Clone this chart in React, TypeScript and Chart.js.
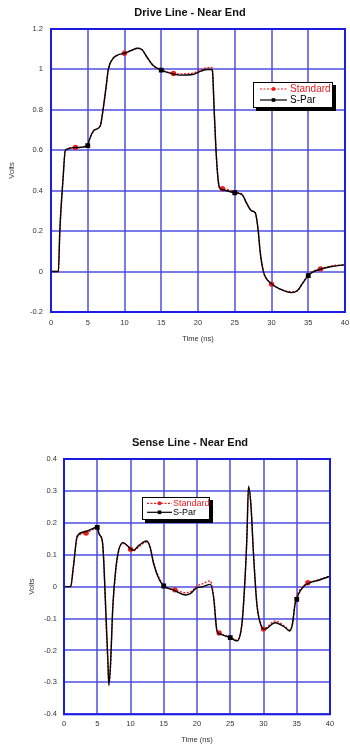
import React, { useEffect, useRef } from "react";
import { Chart, registerables } from "chart.js";

Chart.register(...registerables);

const FONT = "'Liberation Sans', Arial, Helvetica, sans-serif";

// ---------- Data ----------
const seriesLabels = ["Standard", "S-Par"];
const xTicks = [0, 5, 10, 15, 20, 25, 30, 35, 40];
const driveYTicks = [-0.2, 0, 0.2, 0.4, 0.6, 0.8, 1, 1.2];
const senseYTicks = [-0.4, -0.3, -0.2, -0.1, 0, 0.1, 0.2, 0.3, 0.4];
const stdMarkers = [3.33, 10, 16.67, 23.33, 30, 36.67];
const sparMarkers = [5, 15, 25, 35];

const driveStdTime = [0, 1.0, 1.2, 1.65, 1.96, 3.33, 4.9, 5.2, 5.9, 6.7, 7.0, 7.45, 7.8, 8.35, 9.0, 10.0, 11.0, 11.8, 12.4, 13.0, 13.9, 14.8, 16.67, 17.5, 19.3, 20.4, 21.3, 21.9, 22.0, 22.2, 22.45, 22.75, 23.0, 23.33, 24.9, 26.0, 26.7, 27.3, 27.8, 28.2, 28.45, 28.9, 29.3, 30.0, 31.1, 32.7, 33.5, 34.2, 34.9, 35.6, 36.67, 38.2, 39.6, 40];
const driveStdVolts = [0, 0, 0.2, 0.465, 0.6, 0.614, 0.622, 0.65, 0.7, 0.72, 0.78, 0.9, 1.0, 1.05, 1.07, 1.08, 1.095, 1.105, 1.097, 1.064, 1.02, 1.0, 0.98, 0.978, 0.982, 0.998, 1.009, 1.008, 0.98, 0.8, 0.6, 0.45, 0.41, 0.41, 0.394, 0.382, 0.332, 0.3, 0.29, 0.2, 0.1, 0, -0.033, -0.062, -0.086, -0.1, -0.095, -0.058, -0.02, 0, 0.013, 0.028, 0.033, 0.033];

const driveSparTime = [0, 1.0, 1.2, 1.65, 1.95, 3.3, 5, 5.2, 5.9, 6.7, 7.0, 7.45, 7.8, 8.35, 9.0, 10, 11, 11.8, 12.4, 13, 13.9, 15, 16.6, 17.5, 19.3, 20.4, 21.3, 21.9, 22.0, 22.2, 22.45, 22.75, 23.0, 23.3, 25, 26, 26.7, 27.3, 27.8, 28.2, 28.45, 28.9, 29.3, 30, 31.1, 32.7, 33.5, 34.2, 35, 35.6, 36.7, 38.2, 39.6, 40];
const driveSparVolts = [0, 0, 0.2, 0.465, 0.6, 0.613, 0.623, 0.65, 0.7, 0.72, 0.78, 0.9, 1.0, 1.05, 1.07, 1.08, 1.095, 1.105, 1.097, 1.064, 1.02, 0.997, 0.978, 0.972, 0.975, 0.992, 1.0, 1.0, 0.98, 0.8, 0.6, 0.45, 0.41, 0.405, 0.39, 0.38, 0.332, 0.3, 0.29, 0.2, 0.1, 0, -0.035, -0.06, -0.086, -0.104, -0.095, -0.06, -0.02, -0.003, 0.012, 0.025, 0.032, 0.033];

const senseSparTime = [0, 1.0, 1.4, 2.0, 3.1, 4.1, 5.0, 5.3, 5.8, 6.0, 6.35, 6.6, 6.75, 7.0, 7.35, 7.75, 8.2, 8.85, 9.3, 10.1, 10.4, 11.3, 12.4, 12.9, 13.5, 14.3, 15.0, 16.5, 18.3, 19.0, 20.0, 20.75, 22.0, 22.5, 23.0, 23.5, 25.0, 26.0, 26.75, 27.15, 27.5, 27.75, 28.1, 28.5, 29.0, 29.65, 30.15, 31.75, 33.25, 33.9, 34.35, 34.75, 35.0, 35.25, 36.0, 37.0, 38.25, 39.75, 40];
const senseSparVolts = [0, 0, 0.06, 0.159, 0.172, 0.18, 0.186, 0.164, 0.138, 0.07, -0.108, -0.233, -0.31, -0.24, -0.06, 0.049, 0.112, 0.138, 0.133, 0.117, 0.114, 0.13, 0.143, 0.127, 0.07, 0.023, 0.002, -0.011, -0.026, -0.022, -0.003, -0.001, 0.007, -0.034, -0.139, -0.149, -0.16, -0.17, -0.118, -0.003, 0.154, 0.315, 0.258, 0.1, -0.055, -0.123, -0.134, -0.113, -0.128, -0.139, -0.118, -0.055, -0.04, -0.024, 0, 0.0125, 0.02, 0.031, 0.033];

const senseStdTime = [0, 1.0, 1.4, 2.0, 3.33, 4.1, 4.8, 5.3, 5.8, 6.0, 6.3, 6.55, 6.75, 7.0, 7.3, 7.75, 8.2, 8.85, 9.3, 10.0, 10.4, 11.3, 12.4, 12.9, 13.5, 14.3, 15.0, 16.67, 18.3, 19.0, 20.0, 20.75, 22.0, 22.5, 23.0, 23.33, 25.0, 26.0, 26.75, 27.15, 27.5, 27.75, 28.1, 28.5, 29.0, 29.65, 30.0, 31.75, 33.25, 33.9, 34.35, 34.75, 35.25, 36.0, 36.67, 38.25, 39.75, 40];
const senseStdVolts = [0, 0, 0.06, 0.155, 0.168, 0.177, 0.183, 0.165, 0.135, 0.07, -0.1, -0.22, -0.3, -0.25, -0.08, 0.04, 0.11, 0.135, 0.132, 0.117, 0.112, 0.125, 0.14, 0.127, 0.075, 0.028, 0.004, -0.01, -0.019, -0.017, 0.002, 0.008, 0.018, -0.03, -0.135, -0.145, -0.158, -0.168, -0.115, 0.0, 0.15, 0.31, 0.26, 0.105, -0.05, -0.12, -0.133, -0.108, -0.125, -0.136, -0.115, -0.05, -0.018, 0.002, 0.012, 0.021, 0.031, 0.033];

// ---------- Helpers ----------
const RED = "#ee1c1c";
const GRID = "rgba(70,70,225,0.72)";
const FRAME = "#1c1ce0";

function pts(t: number[], v: number[]) {
  return t.map((x, i) => ({ x, y: v[i] }));
}

function fmt(v: number) {
  return String(Number(Number(v).toFixed(2)));
}

const decorPlugin = {
  id: "decor",
  afterDraw(chart: any, _args: any, opts: any) {
    const ctx = chart.ctx;
    const a = chart.chartArea;
    ctx.save();
    // frame
    ctx.strokeStyle = FRAME;
    ctx.lineWidth = 2;
    ctx.strokeRect(a.left, a.top, a.right - a.left, a.bottom - a.top);
    // title
    ctx.fillStyle = "#111";
    ctx.font = `bold ${opts.titleSize}px ${FONT}`;
    ctx.textAlign = "center";
    ctx.textBaseline = "middle";
    ctx.fillText(opts.title, opts.titleX, opts.titleY);
    // legend
    const L = opts.legend;
    const [bx, by, bw, bh] = L.box;
    ctx.fillStyle = "#000";
    ctx.fillRect(bx + 3, by + 3, bw, bh);
    ctx.fillStyle = "#fff";
    ctx.fillRect(bx, by, bw, bh);
    ctx.strokeStyle = "#000";
    ctx.lineWidth = 1;
    ctx.strokeRect(bx + 0.5, by + 0.5, bw - 1, bh - 1);
    ctx.font = `${L.size}px ${FONT}`;
    ctx.textAlign = "left";
    ctx.textBaseline = "middle";
    chart.data.datasets.forEach((ds: any, i: number) => {
      const ry = L.rows[i];
      ctx.strokeStyle = ds.borderColor;
      ctx.lineWidth = 1.2;
      ctx.setLineDash(ds.borderDash || []);
      ctx.beginPath();
      ctx.moveTo(L.line[0], ry);
      ctx.lineTo(L.line[1], ry);
      ctx.stroke();
      ctx.setLineDash([]);
      ctx.fillStyle = ds.borderColor;
      const mx = (L.line[0] + L.line[1]) / 2;
      if (ds.pointStyle === "rect") ctx.fillRect(mx - 1.8, ry - 1.8, 3.6, 3.6);
      else {
        ctx.beginPath();
        ctx.arc(mx, ry, 2, 0, Math.PI * 2);
        ctx.fill();
      }
      ctx.fillStyle = ds.borderColor;
      ctx.fillText(ds.label, L.textX, ry + 0.5);
    });
    ctx.restore();
  },
};

interface PlotProps {
  top: number;
  height: number;
  title: string;
  std: { x: number; y: number }[];
  spar: { x: number; y: number }[];
  yTicks: number[];
  yMin: number;
  yMax: number;
  axisW: number;
  axisH: number;
  padRight: number;
  yTickPad: number;
  yTitlePad: number;
  xTickPad: number;
  xTitlePad: number;
  legend: any;
}

function Plot(p: PlotProps) {
  const ref = useRef<HTMLCanvasElement | null>(null);
  useEffect(() => {
    if (!ref.current) return;
    const tickFont = { family: FONT, size: 7.5 };
    const chart = new Chart(ref.current, {
      type: "line",
      data: {
        datasets: [
          {
            label: seriesLabels[0],
            data: p.std,
            borderColor: RED,
            backgroundColor: RED,
            borderWidth: 1.4,
            borderDash: [2, 1.5],
            pointStyle: "circle",
            pointBackgroundColor: RED,
            pointBorderColor: RED,
            pointRadius: (c: any) => (stdMarkers.includes(c.raw?.x) ? 2 : 0),
            cubicInterpolationMode: "monotone",
            order: 1,
          } as any,
          {
            label: seriesLabels[1],
            data: p.spar,
            borderColor: "#000",
            backgroundColor: "#000",
            borderWidth: 1.4,
            pointStyle: "rect",
            pointBackgroundColor: "#000",
            pointBorderColor: "#000",
            pointRadius: (c: any) => (sparMarkers.includes(c.raw?.x) ? 2.4 : 0),
            cubicInterpolationMode: "monotone",
            order: 0,
          } as any,
        ],
      },
      options: {
        animation: false,
        responsive: false,
        maintainAspectRatio: false,
        layout: { padding: { top: 29, right: p.padRight, left: 0, bottom: 0 } },
        plugins: {
          legend: { display: false },
          title: { display: false },
          tooltip: { enabled: false },
          decor: {
            title: p.title,
            titleX: 190,
            titleY: 13,
            titleSize: 11,
            legend: p.legend,
          },
        } as any,
        scales: {
          x: {
            type: "linear",
            min: 0,
            max: 40,
            afterBuildTicks: (s: any) => {
              s.ticks = xTicks.map((v) => ({ value: v }));
            },
            afterFit: (s: any) => {
              s.height = p.axisH;
              s.paddingLeft = 0;
              s.paddingRight = 0;
            },
            grid: { color: GRID, lineWidth: 2, drawTicks: false },
            border: { display: false },
            ticks: {
              color: "#333",
              font: tickFont,
              padding: p.xTickPad,
              maxRotation: 0,
              callback: (v: any) => fmt(v),
            },
            title: {
              display: true,
              text: "Time (ns)",
              color: "#333",
              font: tickFont,
              padding: { top: 0, bottom: p.xTitlePad },
            },
          },
          y: {
            type: "linear",
            min: p.yMin,
            max: p.yMax,
            afterBuildTicks: (s: any) => {
              s.ticks = p.yTicks.map((v) => ({ value: v }));
            },
            afterFit: (s: any) => {
              s.width = p.axisW;
            },
            grid: { color: GRID, lineWidth: 2, drawTicks: false },
            border: { display: false },
            ticks: {
              color: "#333",
              font: tickFont,
              padding: p.yTickPad,
              callback: (v: any) => fmt(v),
            },
            title: {
              display: true,
              text: "Volts",
              color: "#333",
              font: tickFont,
              padding: { top: p.yTitlePad, bottom: 0 },
            },
          },
        },
      },
      plugins: [decorPlugin as any],
    });
    return () => chart.destroy();
  }, []);
  return (
    <canvas
      ref={ref}
      width={350}
      height={p.height}
      style={{ position: "absolute", left: 0, top: p.top, width: 350, height: p.height }}
    />
  );
}

export default function App() {
  return (
    <div style={{ position: "absolute", left: 0, top: 0, width: 350, height: 744, background: "#fff", overflow: "hidden" }}>
      <Plot
        top={0}
        height={350}
        title="Drive Line - Near End"
        std={pts(driveStdTime, driveStdVolts)}
        spar={pts(driveSparTime, driveSparVolts)}
        yTicks={driveYTicks}
        yMin={-0.2}
        yMax={1.2}
        axisW={51}
        axisH={38}
        padRight={5}
        yTickPad={8}
        yTitlePad={7.5}
        xTickPad={6.5}
        xTitlePad={6.5}
        legend={{ box: [253, 82, 80, 26], rows: [89, 100], line: [260, 287], textX: 290, size: 10 }}
      />
      <Plot
        top={430}
        height={314}
        title="Sense Line - Near End"
        std={pts(senseStdTime, senseStdVolts)}
        spar={pts(senseSparTime, senseSparVolts)}
        yTicks={senseYTicks}
        yMin={-0.4}
        yMax={0.4}
        axisW={64}
        axisH={29.7}
        padRight={20}
        yTickPad={7}
        yTitlePad={27.5}
        xTickPad={5}
        xTitlePad={0}
        legend={{ box: [142, 67, 68, 23], rows: [73.3, 82.3], line: [147, 172], textX: 173, size: 9 }}
      />
    </div>
  );
}
